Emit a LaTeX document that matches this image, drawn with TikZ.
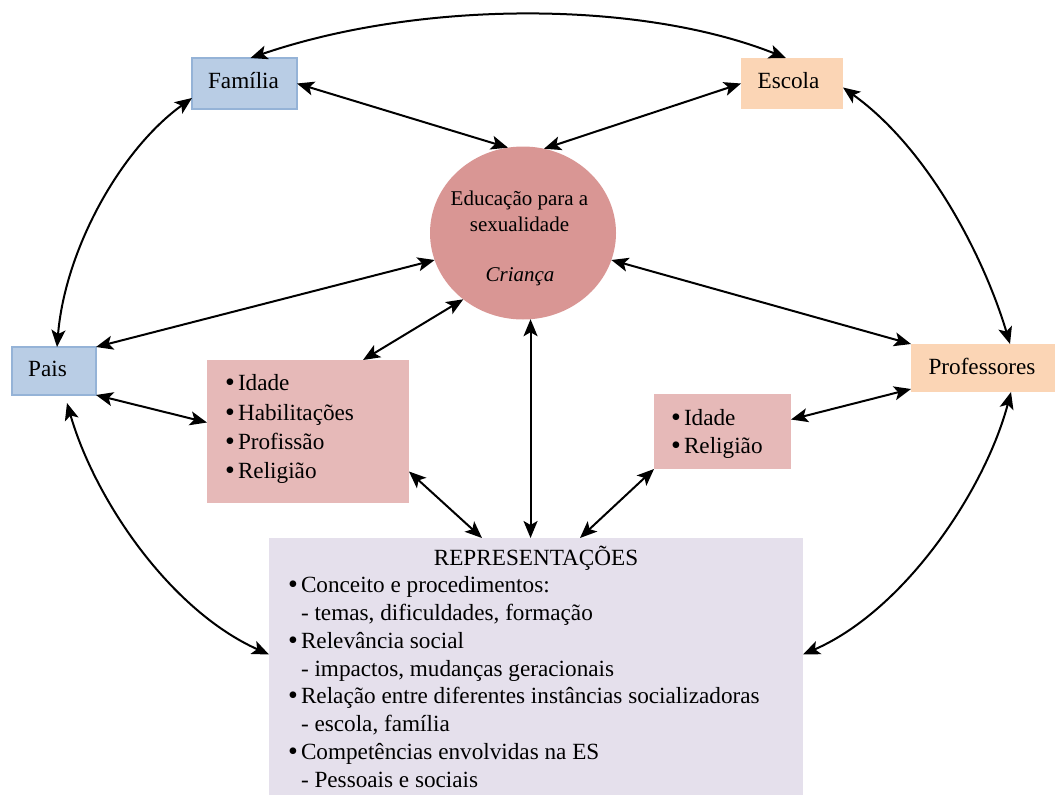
\documentclass[tikz,border=0pt]{standalone}
\usepackage{fontspec}
\setmainfont{Liberation Serif}
\usetikzlibrary{shapes.geometric,arrows.meta}
\definecolor{famblue}{HTML}{B9CDE5}
\definecolor{famedge}{HTML}{95B3D7}
\definecolor{peach}{HTML}{FBD5B5}
\definecolor{rose}{HTML}{D99694}
\definecolor{pinkbox}{HTML}{E6B9B8}
\definecolor{lav}{HTML}{E5E0EC}
\newcommand{\bul}{\makebox[13pt][l]{\raisebox{-1.2pt}{\fontsize{28pt}{28pt}\selectfont •}}}
\begin{document}
\begin{tikzpicture}[x=1pt,y=-1pt,
  every node/.style={inner sep=0pt, outer sep=0pt, font=\fontsize{23.2pt}{27.75pt}\selectfont},
  bluebox/.style={rectangle, draw=famedge, line width=1.1pt, fill=famblue},
  peachbox/.style={rectangle, fill=peach},
  pinkrect/.style={rectangle, fill=pinkbox},
  lavrect/.style={rectangle, fill=lav},
  txt/.style={anchor=base},
  item/.style={anchor=base west},
  small/.style={font=\fontsize{21pt}{26.7pt}\selectfont},
  conn/.style={line width=2pt, {Stealth[length=17pt,width=14pt,inset=4pt]}-{Stealth[length=17pt,width=14pt,inset=4pt]}}]
\useasboundingbox (0,0) rectangle (1055,795);

% boxes
\node[bluebox, minimum width=105pt, minimum height=51pt] (fam) at (244.5,83.5) {};
\node[peachbox, minimum width=102pt, minimum height=51pt] (esc) at (792,83.5) {};
\node[bluebox, minimum width=84pt, minimum height=48pt] (pais) at (54,371) {};
\node[peachbox, minimum width=144pt, minimum height=48pt] (prof) at (983,368) {};
\node[pinkrect, minimum width=202pt, minimum height=143pt] (lp) at (308,431.5) {};
\node[pinkrect, minimum width=137pt, minimum height=75pt] (rp) at (722.5,431.5) {};
\node[lavrect, minimum width=534pt, minimum height=257pt] (rep) at (536,666.5) {};
\node[ellipse, fill=rose, minimum width=186pt, minimum height=173pt, inner sep=0pt] (edu) at (523,233) {};

% labels
\node[txt] (famt) at (243.5,88.5) {Família};
\node[txt] (esct) at (788.5,88.3) {Escola};
\node[txt] (paist) at (47.5,376.7) {Pais};
\node[txt] (proft) at (982,374.3) {Professores};
\node[txt, small] (edu1) at (519.5,205) {Educação para a};
\node[txt, small] (edu2) at (519.5,231.7) {sexualidade};
\node[txt, small] (edu3) at (520,281.7) {\itshape Criança};

% left list
\node[item] (lp1) at (225,390.7) {\bul Idade};
\node[item] (lp2) at (225,420) {\bul Habilitações};
\node[item] (lp3) at (225,449.3) {\bul Profissão};
\node[item] (lp4) at (225,478.6) {\bul Religião};

% right list
\node[item] (rp1) at (671,425) {\bul Idade};
\node[item] (rp2) at (671,453.5) {\bul Religião};

% representations
\node[txt] (r0) at (536,565) {REPRESENTAÇÕES};
\node[item] (r1) at (288,592.75) {\bul Conceito e procedimentos:};
\node[item] (r2) at (301,620.5) {- temas, dificuldades, formação};
\node[item] (r3) at (288,648.25) {\bul Relevância social};
\node[item] (r4) at (301,676) {- impactos, mudanças geracionais};
\node[item] (r5) at (288,703.75) {\bul Relação entre diferentes instâncias socializadoras};
\node[item] (r6) at (301,731.5) {- escola, família};
\node[item] (r7) at (288,759.25) {\bul Competências envolvidas na ES};
\node[item] (r8) at (301,787) {- Pessoais e sociais};

% connectors
\draw[conn] ([xshift=6pt]fam.north) .. controls (420,0) and (640,0) .. ([xshift=-6pt]esc.north);
\draw[conn] (fam.east) -- (edu.100);
\draw[conn] (esc.west) -- (edu.76);
\draw[conn] ([yshift=-14.5pt]fam.west) .. controls (120,150) and (65,250) .. ([xshift=3pt]pais.north);
\draw[conn] ([yshift=-4pt]esc.east) .. controls (930,150) and (985,260) .. ([xshift=27pt]prof.north);
\draw[conn] (pais.north east) -- (edu.197);
\draw[conn] (edu.343) -- (prof.north west);
\draw[conn] (pais.south east) -- ([yshift=9pt]lp.west);
\draw[conn] ([xshift=55pt]lp.north) -- (edu.228);
\draw[conn] (edu.275) -- (edu.275 |- rep.north);
\draw[conn] ([yshift=-40pt]lp.east) -- ([xshift=-54pt]rep.north);
\draw[conn] (rp.south west) -- ([xshift=44pt]rep.north);
\draw[conn] ([yshift=12pt]rp.east) -- ([yshift=3pt]prof.south west);
\draw[conn] ([xshift=28pt]prof.south) .. controls (985,490) and (905,610) .. ([yshift=12pt]rep.east);
\draw[conn] ([xshift=13pt,yshift=-8pt]pais.south) .. controls (95,500) and (170,610) .. ([yshift=12pt]rep.west);
\end{tikzpicture}
\end{document}
